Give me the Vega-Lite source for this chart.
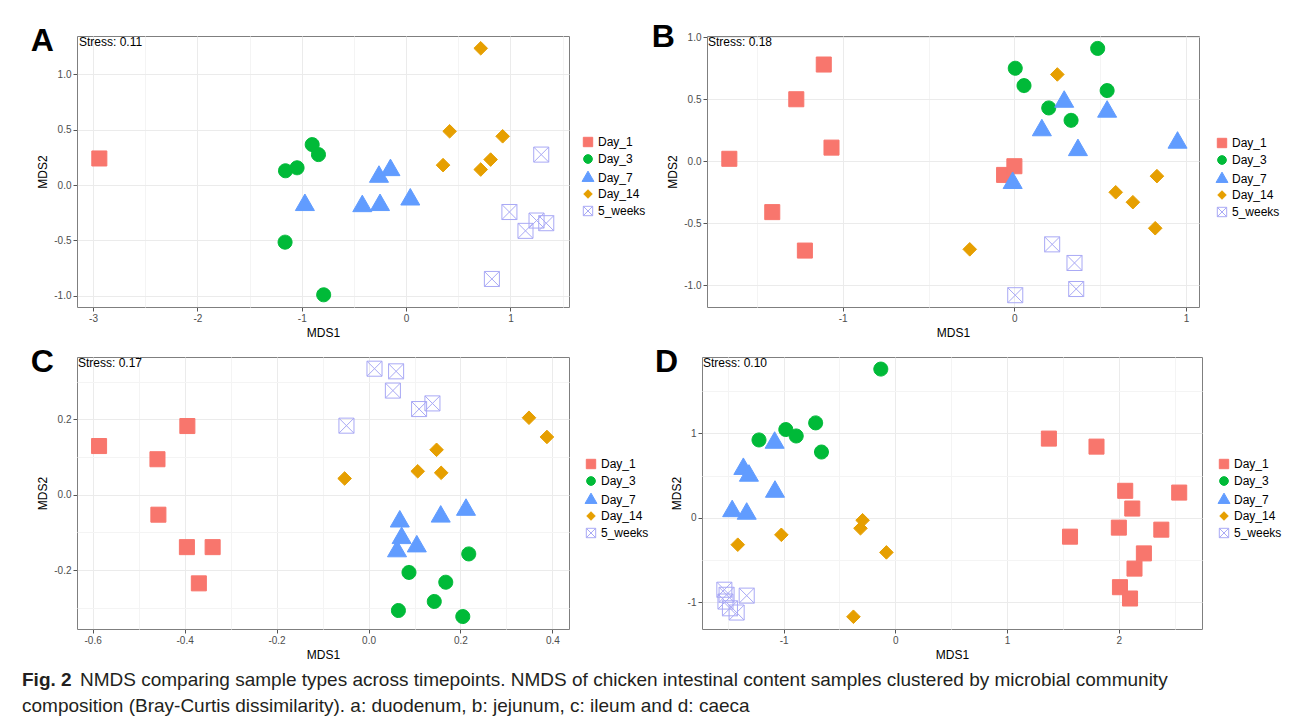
{
  "$schema": "https://vega.github.io/schema/vega-lite/v6.json",
  "background": "white",
  "padding": {"left": 22, "top": 20, "right": 5, "bottom": 2},
  "config": {
    "font": "Liberation Sans",
    "view": {"stroke": "#7F7F7F", "strokeWidth": 1},
    "axis": {"domain": false, "grid": true, "gridColor": "#EBEBEB", "tickColor": "#555555", "tickSize": 4, "labelFontSize": 10, "labelColor": "#4D4D4D", "labelPadding": 2, "titleFontSize": 12, "titleFontWeight": "normal", "titleColor": "#000000", "titlePadding": 4, "labelFlush": false, "labelOverlap": false},
    "legend": {"labelFontSize": 12, "labelColor": "#000000", "symbolStrokeWidth": 1, "rowPadding": 3, "padding": 0, "labelOffset": 4, "symbolSize": 100},
    "title": {"fontSize": 32, "fontWeight": "bold", "color": "#000000", "anchor": "start", "frame": "bounds", "baseline": "top", "offset": -22, "dx": -6}
  },
  "datasets": {
    "A": [
      {"group": "Day_1", "MDS1": -2.94, "MDS2": 0.24},
      {"group": "Day_3", "MDS1": -1.156, "MDS2": 0.129},
      {"group": "Day_3", "MDS1": -1.045, "MDS2": 0.156},
      {"group": "Day_3", "MDS1": -0.9, "MDS2": 0.365},
      {"group": "Day_3", "MDS1": -0.84, "MDS2": 0.275},
      {"group": "Day_3", "MDS1": -1.16, "MDS2": -0.515},
      {"group": "Day_3", "MDS1": -0.79, "MDS2": -0.99},
      {"group": "Day_7", "MDS1": -0.97, "MDS2": -0.18},
      {"group": "Day_7", "MDS1": -0.26, "MDS2": 0.075},
      {"group": "Day_7", "MDS1": -0.15, "MDS2": 0.135},
      {"group": "Day_7", "MDS1": -0.42, "MDS2": -0.19},
      {"group": "Day_7", "MDS1": -0.25, "MDS2": -0.18},
      {"group": "Day_7", "MDS1": 0.04, "MDS2": -0.13},
      {"group": "Day_14", "MDS1": 0.715, "MDS2": 1.234},
      {"group": "Day_14", "MDS1": 0.417, "MDS2": 0.485},
      {"group": "Day_14", "MDS1": 0.925, "MDS2": 0.44},
      {"group": "Day_14", "MDS1": 0.354, "MDS2": 0.18},
      {"group": "Day_14", "MDS1": 0.81, "MDS2": 0.23},
      {"group": "Day_14", "MDS1": 0.715, "MDS2": 0.14},
      {"group": "5_weeks", "MDS1": 1.295, "MDS2": 0.275},
      {"group": "5_weeks", "MDS1": 0.99, "MDS2": -0.243},
      {"group": "5_weeks", "MDS1": 1.25, "MDS2": -0.32},
      {"group": "5_weeks", "MDS1": 1.343, "MDS2": -0.344},
      {"group": "5_weeks", "MDS1": 1.144, "MDS2": -0.413},
      {"group": "5_weeks", "MDS1": 0.822, "MDS2": -0.847}
    ],
    "B": [
      {"group": "Day_1", "MDS1": -1.11, "MDS2": 0.78},
      {"group": "Day_1", "MDS1": -1.27, "MDS2": 0.5},
      {"group": "Day_1", "MDS1": -1.66, "MDS2": 0.02},
      {"group": "Day_1", "MDS1": -1.065, "MDS2": 0.11},
      {"group": "Day_1", "MDS1": -1.41, "MDS2": -0.41},
      {"group": "Day_1", "MDS1": -1.22, "MDS2": -0.72},
      {"group": "Day_1", "MDS1": -0.06, "MDS2": -0.11},
      {"group": "Day_1", "MDS1": 0.0, "MDS2": -0.04},
      {"group": "Day_3", "MDS1": 0.005, "MDS2": 0.75},
      {"group": "Day_3", "MDS1": 0.056, "MDS2": 0.61},
      {"group": "Day_3", "MDS1": 0.485, "MDS2": 0.91},
      {"group": "Day_3", "MDS1": 0.54, "MDS2": 0.57},
      {"group": "Day_3", "MDS1": 0.2, "MDS2": 0.43},
      {"group": "Day_3", "MDS1": 0.33, "MDS2": 0.33},
      {"group": "Day_7", "MDS1": 0.29, "MDS2": 0.48},
      {"group": "Day_7", "MDS1": 0.54, "MDS2": 0.4},
      {"group": "Day_7", "MDS1": 0.16, "MDS2": 0.25},
      {"group": "Day_7", "MDS1": 0.37, "MDS2": 0.09},
      {"group": "Day_7", "MDS1": 0.95, "MDS2": 0.15},
      {"group": "Day_7", "MDS1": -0.01, "MDS2": -0.175},
      {"group": "Day_14", "MDS1": 0.25, "MDS2": 0.7},
      {"group": "Day_14", "MDS1": 0.83, "MDS2": -0.12},
      {"group": "Day_14", "MDS1": 0.59, "MDS2": -0.25},
      {"group": "Day_14", "MDS1": 0.69, "MDS2": -0.33},
      {"group": "Day_14", "MDS1": 0.82, "MDS2": -0.54},
      {"group": "Day_14", "MDS1": -0.26, "MDS2": -0.71},
      {"group": "5_weeks", "MDS1": 0.22, "MDS2": -0.67},
      {"group": "5_weeks", "MDS1": 0.35, "MDS2": -0.82},
      {"group": "5_weeks", "MDS1": 0.36, "MDS2": -1.03},
      {"group": "5_weeks", "MDS1": 0.005, "MDS2": -1.08}
    ],
    "C": [
      {"group": "Day_1", "MDS1": -0.586, "MDS2": 0.129},
      {"group": "Day_1", "MDS1": -0.394, "MDS2": 0.182},
      {"group": "Day_1", "MDS1": -0.459, "MDS2": 0.094},
      {"group": "Day_1", "MDS1": -0.457, "MDS2": -0.053},
      {"group": "Day_1", "MDS1": -0.395, "MDS2": -0.139},
      {"group": "Day_1", "MDS1": -0.339, "MDS2": -0.139},
      {"group": "Day_1", "MDS1": -0.369, "MDS2": -0.235},
      {"group": "Day_3", "MDS1": 0.218, "MDS2": -0.157},
      {"group": "Day_3", "MDS1": 0.088, "MDS2": -0.206},
      {"group": "Day_3", "MDS1": 0.168, "MDS2": -0.232},
      {"group": "Day_3", "MDS1": 0.143, "MDS2": -0.283},
      {"group": "Day_3", "MDS1": 0.065, "MDS2": -0.307},
      {"group": "Day_3", "MDS1": 0.205, "MDS2": -0.323},
      {"group": "Day_7", "MDS1": 0.068, "MDS2": -0.071},
      {"group": "Day_7", "MDS1": 0.157, "MDS2": -0.058},
      {"group": "Day_7", "MDS1": 0.212, "MDS2": -0.04},
      {"group": "Day_7", "MDS1": 0.072, "MDS2": -0.115},
      {"group": "Day_7", "MDS1": 0.105, "MDS2": -0.137},
      {"group": "Day_7", "MDS1": 0.062, "MDS2": -0.15},
      {"group": "Day_14", "MDS1": 0.349, "MDS2": 0.204},
      {"group": "Day_14", "MDS1": 0.388, "MDS2": 0.153},
      {"group": "Day_14", "MDS1": 0.148, "MDS2": 0.119},
      {"group": "Day_14", "MDS1": 0.107, "MDS2": 0.062},
      {"group": "Day_14", "MDS1": 0.158, "MDS2": 0.058},
      {"group": "Day_14", "MDS1": -0.052, "MDS2": 0.043},
      {"group": "5_weeks", "MDS1": 0.013, "MDS2": 0.334},
      {"group": "5_weeks", "MDS1": 0.06, "MDS2": 0.327},
      {"group": "5_weeks", "MDS1": 0.053, "MDS2": 0.276},
      {"group": "5_weeks", "MDS1": 0.11, "MDS2": 0.227},
      {"group": "5_weeks", "MDS1": 0.139, "MDS2": 0.242},
      {"group": "5_weeks", "MDS1": -0.048, "MDS2": 0.183}
    ],
    "D": [
      {"group": "Day_1", "MDS1": 1.374, "MDS2": 0.939},
      {"group": "Day_1", "MDS1": 1.8, "MDS2": 0.844},
      {"group": "Day_1", "MDS1": 2.057, "MDS2": 0.321},
      {"group": "Day_1", "MDS1": 2.54, "MDS2": 0.3},
      {"group": "Day_1", "MDS1": 2.12, "MDS2": 0.111},
      {"group": "Day_1", "MDS1": 2.0, "MDS2": -0.115},
      {"group": "Day_1", "MDS1": 1.563, "MDS2": -0.222},
      {"group": "Day_1", "MDS1": 2.38, "MDS2": -0.139},
      {"group": "Day_1", "MDS1": 2.224, "MDS2": -0.42},
      {"group": "Day_1", "MDS1": 2.14, "MDS2": -0.6},
      {"group": "Day_1", "MDS1": 2.01, "MDS2": -0.82},
      {"group": "Day_1", "MDS1": 2.1, "MDS2": -0.954},
      {"group": "Day_3", "MDS1": -0.13, "MDS2": 1.762},
      {"group": "Day_3", "MDS1": -0.713, "MDS2": 1.125},
      {"group": "Day_3", "MDS1": -0.98, "MDS2": 1.046},
      {"group": "Day_3", "MDS1": -0.887, "MDS2": 0.97},
      {"group": "Day_3", "MDS1": -1.22, "MDS2": 0.923},
      {"group": "Day_3", "MDS1": -0.661, "MDS2": 0.78},
      {"group": "Day_7", "MDS1": -1.08, "MDS2": 0.89},
      {"group": "Day_7", "MDS1": -1.36, "MDS2": 0.58},
      {"group": "Day_7", "MDS1": -1.31, "MDS2": 0.5},
      {"group": "Day_7", "MDS1": -1.077, "MDS2": 0.31},
      {"group": "Day_7", "MDS1": -1.46, "MDS2": 0.08},
      {"group": "Day_7", "MDS1": -1.33, "MDS2": 0.05},
      {"group": "Day_14", "MDS1": -0.293, "MDS2": -0.028},
      {"group": "Day_14", "MDS1": -0.312, "MDS2": -0.123},
      {"group": "Day_14", "MDS1": -1.02, "MDS2": -0.2},
      {"group": "Day_14", "MDS1": -1.41, "MDS2": -0.317},
      {"group": "Day_14", "MDS1": -0.08, "MDS2": -0.408},
      {"group": "Day_14", "MDS1": -0.375, "MDS2": -1.17},
      {"group": "5_weeks", "MDS1": -1.53, "MDS2": -0.85},
      {"group": "5_weeks", "MDS1": -1.51, "MDS2": -0.91},
      {"group": "5_weeks", "MDS1": -1.52, "MDS2": -0.99},
      {"group": "5_weeks", "MDS1": -1.33, "MDS2": -0.92},
      {"group": "5_weeks", "MDS1": -1.48, "MDS2": -1.07},
      {"group": "5_weeks", "MDS1": -1.42, "MDS2": -1.12}
    ],
    "caption": [
      {"line": 1, "text": "NMDS comparing sample types across timepoints. NMDS of chicken intestinal content samples clustered by microbial community"},
      {"line": 2, "text": "composition (Bray-Curtis dissimilarity). a: duodenum, b: jejunum, c: ileum and d: caeca"}
    ],
    "figlabel": [
      {"line": 1, "text": "Fig. 2"}
    ]
  },
  "resolve": {"scale": {"shape": "independent", "fill": "independent", "stroke": "independent"}},
  "spacing": 6,
  "vconcat": [
    {
      "resolve": {"scale": {"shape": "independent", "fill": "independent", "stroke": "independent"}},
      "spacing": 4,
      "hconcat": [
        {
          "title": {"text": "A"},
          "width": 492, "height": 271,
          "layer": [
            {
              "data": {"name": "A"},
              "mark": {"type": "point", "size": 256, "opacity": 1, "strokeWidth": 1},
              "encoding": {
                "x": {"field": "MDS1", "type": "quantitative", "scale": {"domain": [-3.154, 1.561], "nice": false, "zero": false},
                  "axis": {"title": "MDS1", "values": [-3, -2.5, -2, -1.5, -1, -0.5, 0, 0.5, 1, 1.5],
                    "labelExpr": "datum.value % 1 == 0 ? replace(format(datum.value, 'd'), '\u2212', '-') : ''",
                    "tickOpacity": {"condition": {"test": "datum.value % 1 == 0", "value": 1}, "value": 0},
                    "gridColor": {"condition": {"test": "datum.value % 1 == 0", "value": "#EBEBEB"}, "value": "#F4F4F4"}}},
                "y": {"field": "MDS2", "type": "quantitative", "scale": {"domain": [-1.1, 1.345], "nice": false, "zero": false},
                  "axis": {"title": "MDS2", "values": [-1, -0.75, -0.5, -0.25, 0, 0.25, 0.5, 0.75, 1, 1.25],
                    "labelExpr": "datum.value % 0.5 == 0 ? replace(format(datum.value, '.1f'), '\u2212', '-') : ''",
                    "tickOpacity": {"condition": {"test": "datum.value % 0.5 == 0", "value": 1}, "value": 0},
                    "gridColor": {"condition": {"test": "datum.value % 0.5 == 0", "value": "#EBEBEB"}, "value": "#F4F4F4"}}},
                "shape": {"field": "group", "type": "nominal",
                  "scale": {"domain": ["Day_1", "Day_3", "Day_7", "Day_14", "5_weeks"],
                    "range": ["M-0.94,-0.94H0.94V0.94H-0.94Z", "M0.875,0A0.875,0.875,0,1,1,-0.875,0A0.875,0.875,0,1,1,0.875,0Z", "M0,-1.375L1.19,0.69L-1.19,0.69Z", "M0,-0.85L0.85,0L0,0.85L-0.85,0Z", "M-0.94,-0.94H0.94V0.94H-0.94Z M-0.94,-0.94L0.94,0.94 M0.94,-0.94L-0.94,0.94"]},
                  "legend": {"title": null, "orient": "none", "legendX": 505, "legendY": 100}},
                "fill": {"field": "group", "type": "nominal",
                  "scale": {"domain": ["Day_1", "Day_3", "Day_7", "Day_14", "5_weeks"], "range": ["#F8766D", "#00BA38", "#619CFF", "#E69F00", "transparent"]},
                  "legend": {"title": null, "orient": "none", "legendX": 505, "legendY": 100}},
                "stroke": {"field": "group", "type": "nominal",
                  "scale": {"domain": ["Day_1", "Day_3", "Day_7", "Day_14", "5_weeks"], "range": ["#F8766D", "#00BA38", "#619CFF", "#E69F00", "#A9A9F5"]},
                  "legend": {"title": null, "orient": "none", "legendX": 505, "legendY": 100}}
              }
            },
            {
              "data": {"values": [{"label": "Stress: 0.11"}]},
              "mark": {"type": "text", "align": "left", "baseline": "top", "fontSize": 12, "color": "#000000", "dx": 2, "dy": 1},
              "encoding": {"x": {"datum": -3.154}, "y": {"datum": 1.345}, "text": {"field": "label"}}
            }
          ]
        },
        {
          "title": {"text": "B", "dx": -15},
          "width": 492, "height": 271,
          "layer": [
            {
              "data": {"name": "B"},
              "mark": {"type": "point", "size": 256, "opacity": 1, "strokeWidth": 1},
              "encoding": {
                "x": {"field": "MDS1", "type": "quantitative", "scale": {"domain": [-1.79, 1.075], "nice": false, "zero": false},
                  "axis": {"title": "MDS1", "values": [-1.5, -1, -0.5, 0, 0.5, 1],
                    "labelExpr": "datum.value % 1 == 0 ? replace(format(datum.value, 'd'), '\u2212', '-') : ''",
                    "tickOpacity": {"condition": {"test": "datum.value % 1 == 0", "value": 1}, "value": 0},
                    "gridColor": {"condition": {"test": "datum.value % 1 == 0", "value": "#EBEBEB"}, "value": "#F4F4F4"}}},
                "y": {"field": "MDS2", "type": "quantitative", "scale": {"domain": [-1.175, 1.01], "nice": false, "zero": false},
                  "axis": {"title": "MDS2", "values": [-1, -0.75, -0.5, -0.25, 0, 0.25, 0.5, 0.75, 1],
                    "labelExpr": "datum.value % 0.5 == 0 ? replace(format(datum.value, '.1f'), '\u2212', '-') : ''",
                    "tickOpacity": {"condition": {"test": "datum.value % 0.5 == 0", "value": 1}, "value": 0},
                    "gridColor": {"condition": {"test": "datum.value % 0.5 == 0", "value": "#EBEBEB"}, "value": "#F4F4F4"}}},
                "shape": {"field": "group", "type": "nominal",
                  "scale": {"domain": ["Day_1", "Day_3", "Day_7", "Day_14", "5_weeks"],
                    "range": ["M-0.94,-0.94H0.94V0.94H-0.94Z", "M0.875,0A0.875,0.875,0,1,1,-0.875,0A0.875,0.875,0,1,1,0.875,0Z", "M0,-1.375L1.19,0.69L-1.19,0.69Z", "M0,-0.85L0.85,0L0,0.85L-0.85,0Z", "M-0.94,-0.94H0.94V0.94H-0.94Z M-0.94,-0.94L0.94,0.94 M0.94,-0.94L-0.94,0.94"]},
                  "legend": {"title": null, "orient": "none", "legendX": 509, "legendY": 101}},
                "fill": {"field": "group", "type": "nominal",
                  "scale": {"domain": ["Day_1", "Day_3", "Day_7", "Day_14", "5_weeks"], "range": ["#F8766D", "#00BA38", "#619CFF", "#E69F00", "transparent"]},
                  "legend": {"title": null, "orient": "none", "legendX": 509, "legendY": 101}},
                "stroke": {"field": "group", "type": "nominal",
                  "scale": {"domain": ["Day_1", "Day_3", "Day_7", "Day_14", "5_weeks"], "range": ["#F8766D", "#00BA38", "#619CFF", "#E69F00", "#A9A9F5"]},
                  "legend": {"title": null, "orient": "none", "legendX": 509, "legendY": 101}}
              }
            },
            {
              "data": {"values": [{"label": "Stress: 0.18"}]},
              "mark": {"type": "text", "align": "left", "baseline": "top", "fontSize": 12, "color": "#000000", "dx": 1, "dy": 1},
              "encoding": {"x": {"datum": -1.79}, "y": {"datum": 1.01}, "text": {"field": "label"}}
            }
          ]
        }
      ]
    },
    {
      "resolve": {"scale": {"shape": "independent", "fill": "independent", "stroke": "independent"}},
      "spacing": 4,
      "hconcat": [
        {
          "title": {"text": "C"},
          "width": 492, "height": 272,
          "layer": [
            {
              "data": {"name": "C"},
              "mark": {"type": "point", "size": 256, "opacity": 1, "strokeWidth": 1},
              "encoding": {
                "x": {"field": "MDS1", "type": "quantitative", "scale": {"domain": [-0.634, 0.436], "nice": false, "zero": false},
                  "axis": {"title": "MDS1", "values": [-0.6, -0.5, -0.4, -0.3, -0.2, -0.1, 0, 0.1, 0.2, 0.3, 0.4],
                    "labelExpr": "abs(round(datum.value * 10)) % 2 == 0 ? replace(format(datum.value, '.1f'), '\u2212', '-') : ''",
                    "tickOpacity": {"condition": {"test": "abs(round(datum.value * 10)) % 2 == 0", "value": 1}, "value": 0},
                    "gridColor": {"condition": {"test": "abs(round(datum.value * 10)) % 2 == 0", "value": "#EBEBEB"}, "value": "#F4F4F4"}}},
                "y": {"field": "MDS2", "type": "quantitative", "scale": {"domain": [-0.356, 0.365], "nice": false, "zero": false},
                  "axis": {"title": "MDS2", "values": [-0.3, -0.2, -0.1, 0, 0.1, 0.2, 0.3],
                    "labelExpr": "abs(round(datum.value * 10)) % 2 == 0 ? replace(format(datum.value, '.1f'), '\u2212', '-') : ''",
                    "tickOpacity": {"condition": {"test": "abs(round(datum.value * 10)) % 2 == 0", "value": 1}, "value": 0},
                    "gridColor": {"condition": {"test": "abs(round(datum.value * 10)) % 2 == 0", "value": "#EBEBEB"}, "value": "#F4F4F4"}}},
                "shape": {"field": "group", "type": "nominal",
                  "scale": {"domain": ["Day_1", "Day_3", "Day_7", "Day_14", "5_weeks"],
                    "range": ["M-0.94,-0.94H0.94V0.94H-0.94Z", "M0.875,0A0.875,0.875,0,1,1,-0.875,0A0.875,0.875,0,1,1,0.875,0Z", "M0,-1.375L1.19,0.69L-1.19,0.69Z", "M0,-0.85L0.85,0L0,0.85L-0.85,0Z", "M-0.94,-0.94H0.94V0.94H-0.94Z M-0.94,-0.94L0.94,0.94 M0.94,-0.94L-0.94,0.94"]},
                  "legend": {"title": null, "orient": "none", "legendX": 508, "legendY": 101}},
                "fill": {"field": "group", "type": "nominal",
                  "scale": {"domain": ["Day_1", "Day_3", "Day_7", "Day_14", "5_weeks"], "range": ["#F8766D", "#00BA38", "#619CFF", "#E69F00", "transparent"]},
                  "legend": {"title": null, "orient": "none", "legendX": 508, "legendY": 101}},
                "stroke": {"field": "group", "type": "nominal",
                  "scale": {"domain": ["Day_1", "Day_3", "Day_7", "Day_14", "5_weeks"], "range": ["#F8766D", "#00BA38", "#619CFF", "#E69F00", "#A9A9F5"]},
                  "legend": {"title": null, "orient": "none", "legendX": 508, "legendY": 101}}
              }
            },
            {
              "data": {"values": [{"label": "Stress: 0.17"}]},
              "mark": {"type": "text", "align": "left", "baseline": "top", "fontSize": 12, "color": "#000000", "dx": 1, "dy": 1},
              "encoding": {"x": {"datum": -0.634}, "y": {"datum": 0.365}, "text": {"field": "label"}}
            }
          ]
        },
        {
          "title": {"text": "D", "dx": -15},
          "width": 500, "height": 272,
          "layer": [
            {
              "data": {"name": "D"},
              "mark": {"type": "point", "size": 256, "opacity": 1, "strokeWidth": 1},
              "encoding": {
                "x": {"field": "MDS1", "type": "quantitative", "scale": {"domain": [-1.73, 2.744], "nice": false, "zero": false},
                  "axis": {"title": "MDS1", "values": [-1.5, -1, -0.5, 0, 0.5, 1, 1.5, 2, 2.5],
                    "labelExpr": "datum.value % 1 == 0 ? replace(format(datum.value, 'd'), '\u2212', '-') : ''",
                    "tickOpacity": {"condition": {"test": "datum.value % 1 == 0", "value": 1}, "value": 0},
                    "gridColor": {"condition": {"test": "datum.value % 1 == 0", "value": "#EBEBEB"}, "value": "#F4F4F4"}}},
                "y": {"field": "MDS2", "type": "quantitative", "scale": {"domain": [-1.315, 1.905], "nice": false, "zero": false},
                  "axis": {"title": "MDS2", "values": [-1, -0.5, 0, 0.5, 1, 1.5],
                    "labelExpr": "datum.value % 1 == 0 ? replace(format(datum.value, 'd'), '\u2212', '-') : ''",
                    "tickOpacity": {"condition": {"test": "datum.value % 1 == 0", "value": 1}, "value": 0},
                    "gridColor": {"condition": {"test": "datum.value % 1 == 0", "value": "#EBEBEB"}, "value": "#F4F4F4"}}},
                "shape": {"field": "group", "type": "nominal",
                  "scale": {"domain": ["Day_1", "Day_3", "Day_7", "Day_14", "5_weeks"],
                    "range": ["M-0.94,-0.94H0.94V0.94H-0.94Z", "M0.875,0A0.875,0.875,0,1,1,-0.875,0A0.875,0.875,0,1,1,0.875,0Z", "M0,-1.375L1.19,0.69L-1.19,0.69Z", "M0,-0.85L0.85,0L0,0.85L-0.85,0Z", "M-0.94,-0.94H0.94V0.94H-0.94Z M-0.94,-0.94L0.94,0.94 M0.94,-0.94L-0.94,0.94"]},
                  "legend": {"title": null, "orient": "none", "legendX": 516, "legendY": 101}},
                "fill": {"field": "group", "type": "nominal",
                  "scale": {"domain": ["Day_1", "Day_3", "Day_7", "Day_14", "5_weeks"], "range": ["#F8766D", "#00BA38", "#619CFF", "#E69F00", "transparent"]},
                  "legend": {"title": null, "orient": "none", "legendX": 516, "legendY": 101}},
                "stroke": {"field": "group", "type": "nominal",
                  "scale": {"domain": ["Day_1", "Day_3", "Day_7", "Day_14", "5_weeks"], "range": ["#F8766D", "#00BA38", "#619CFF", "#E69F00", "#A9A9F5"]},
                  "legend": {"title": null, "orient": "none", "legendX": 516, "legendY": 101}}
              }
            },
            {
              "data": {"values": [{"label": "Stress: 0.10"}]},
              "mark": {"type": "text", "align": "left", "baseline": "top", "fontSize": 12, "color": "#000000", "dx": 1, "dy": 1},
              "encoding": {"x": {"datum": -1.73}, "y": {"datum": 1.905}, "text": {"field": "label"}}
            }
          ]
        }
      ]
    },
    {
      "width": 1250, "height": 52,
      "view": {"stroke": null},
      "layer": [
        {
          "data": {"name": "figlabel"},
          "mark": {"type": "text", "align": "left", "baseline": "middle", "fontSize": 19, "fontWeight": "bold", "color": "#231F20", "dx": -55},
          "encoding": {"x": {"value": 0}, "y": {"field": "line", "type": "ordinal", "axis": null, "scale": {"type": "point", "domain": [1, 2], "padding": 0.5}}, "text": {"field": "text"}}
        },
        {
          "data": {"name": "caption"},
          "transform": [{"filter": "datum.line == 1"}],
          "mark": {"type": "text", "align": "left", "baseline": "middle", "fontSize": 19, "color": "#231F20", "dx": 3},
          "encoding": {"x": {"value": 0}, "y": {"field": "line", "type": "ordinal", "axis": null, "scale": {"type": "point", "domain": [1, 2], "padding": 0.5}}, "text": {"field": "text"}}
        },
        {
          "data": {"name": "caption"},
          "transform": [{"filter": "datum.line == 2"}],
          "mark": {"type": "text", "align": "left", "baseline": "middle", "fontSize": 19, "color": "#231F20", "dx": -55},
          "encoding": {"x": {"value": 0}, "y": {"field": "line", "type": "ordinal", "axis": null, "scale": {"type": "point", "domain": [1, 2], "padding": 0.5}}, "text": {"field": "text"}}
        }
      ]
    }
  ]
}
